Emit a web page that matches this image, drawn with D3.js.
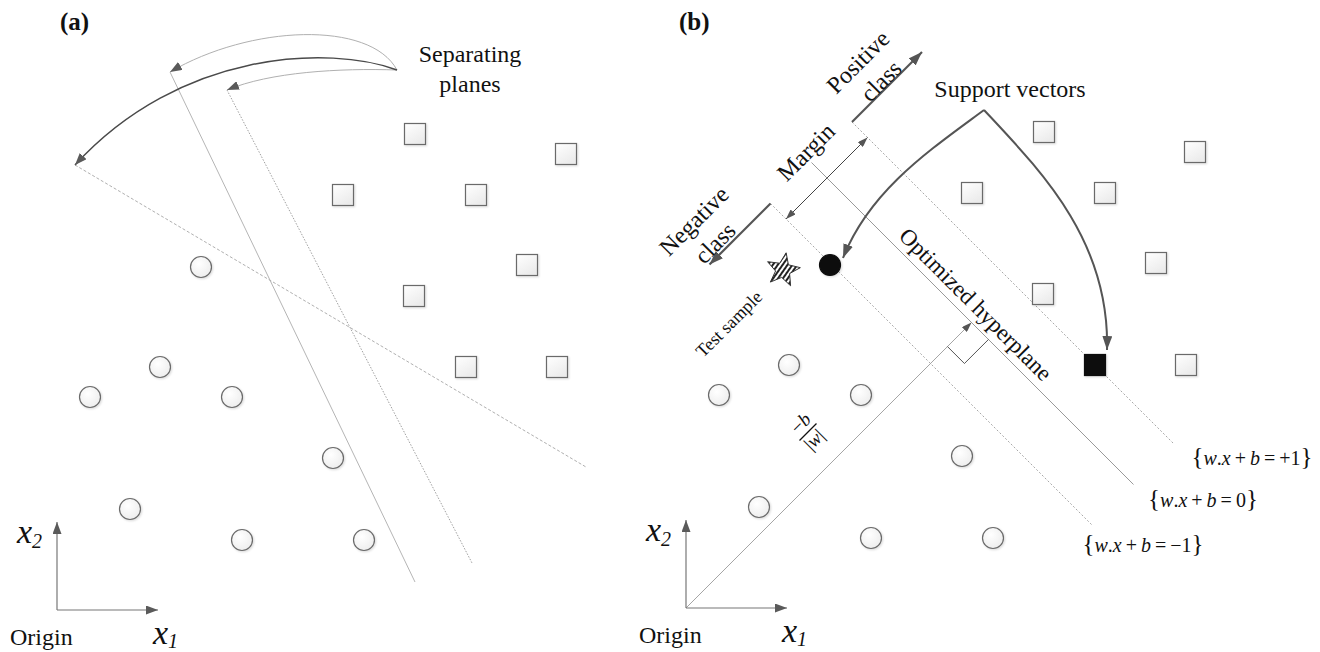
<!DOCTYPE html>
<html>
<head>
<meta charset="utf-8">
<script src="https://cdn.jsdelivr.net/npm/d3@7/dist/d3.min.js"></script>
<style>
  html, body { margin: 0; padding: 0; background: #fff; }
  svg { display: block; }
  svg text { font-family: "Liberation Serif", "Times New Roman", Times, serif; fill: #111; }
</style>
</head>
<body>
<svg id="fig" width="1320" height="652" font-family="Liberation Serif, Times New Roman, serif"></svg>
<script>
// ---- Training samples in feature space (x1, x2), shared by both panels ----
const positiveSamples = [[358,476],[509,456],[286,415],[419,415],[470,345],[357,314],[409,243],[500,243]];
const negativeSamples = [[144,343],[103,243],[33,213],[175,213],[276,152],[73,101],[185,70],[307,70]];
const positiveSupportIdx = [6];
const negativeSupportIdx = [0];
const testSample = [97, 338];

// ---- Panel (a): candidate separating planes (end points) ----
const candidatePlanes = [
  [[113,538],[358,28]],
  [[170,520],[415,47]],
  [[18,445],[529,143]]
];
const candidateDash = [null, "1.5,1.5", "3,2"];
const candidateColor = ["#b5b5b5", "#a0a0a0", "#b0b0b0"];

// ---- Panel (b): optimized hyperplane w.x + b = c, with w along (1,1) ----
// x1 + x2 on each boundary, and the drawn span of x1 − x2
const boundaryRhs  = ["+1", "0", "\u22121"];
const boundarySums = [652, 571, 489];
const boundarySpan = [-320, 324];
const boundaryDash = ["2,2", null, "2,2"];

const SERIF = "Liberation Serif, Times New Roman, serif";
const svg = d3.select("#fig");
const defs = svg.append("defs");

// arrowheads
function marker(id, len, wid, color) {
  defs.append("marker")
    .attr("id", id)
    .attr("viewBox", `0 0 ${len} ${wid}`)
    .attr("refX", len).attr("refY", wid / 2)
    .attr("markerWidth", len).attr("markerHeight", wid)
    .attr("markerUnits", "userSpaceOnUse")
    .attr("orient", "auto-start-reverse")
    .append("path")
    .attr("d", `M0,0L${len},${wid / 2}L0,${wid}Z`)
    .attr("fill", color);
}
marker("tipL", 14, 10, "#555");
marker("tipM", 12, 9, "#5a5a5a");
marker("tipS", 10, 7, "#555");

// sample fills
const sq = defs.append("linearGradient").attr("id", "sqFill")
  .attr("x1", 0).attr("y1", 0).attr("x2", 0.6).attr("y2", 1);
sq.append("stop").attr("offset", "0%").attr("stop-color", "#ffffff");
sq.append("stop").attr("offset", "100%").attr("stop-color", "#ebebeb");
const ci = defs.append("radialGradient").attr("id", "ciFill")
  .attr("cx", "40%").attr("cy", "35%").attr("r", "70%");
ci.append("stop").attr("offset", "0%").attr("stop-color", "#ffffff");
ci.append("stop").attr("offset", "100%").attr("stop-color", "#ededed");
const soft = defs.append("filter").attr("id", "soft")
  .attr("x", "-30%").attr("y", "-30%").attr("width", "160%").attr("height", "160%");
soft.append("feDropShadow").attr("dx", 1).attr("dy", 1).attr("stdDeviation", 0.8)
  .attr("flood-color", "#000").attr("flood-opacity", 0.15);

// hatching for the test sample
const pat = defs.append("pattern").attr("id", "stripes")
  .attr("patternUnits", "userSpaceOnUse").attr("width", 4).attr("height", 4)
  .attr("patternTransform", "rotate(35)");
pat.append("rect").attr("width", 4).attr("height", 4).attr("fill", "#fff");
pat.append("rect").attr("width", 2).attr("height", 4).attr("fill", "#222");

// one coordinate frame per panel, origin at the x1/x2 arrows
function panelScales(ox, oy) {
  return {
    x: d3.scaleLinear().domain([0, 600]).range([ox, ox + 600]),
    y: d3.scaleLinear().domain([0, 600]).range([oy, oy - 600])
  };
}
const A = panelScales(57, 610);
const B = panelScales(686, 608);

const lineOf = s => d3.line().x(d => s.x(d[0])).y(d => s.y(d[1]));
function bezier(s, p0, c1, c2, p1) {
  const p = d3.path();
  p.moveTo(s.x(p0[0]), s.y(p0[1]));
  p.bezierCurveTo(s.x(c1[0]), s.y(c1[1]), s.x(c2[0]), s.y(c2[1]), s.x(p1[0]), s.y(p1[1]));
  return p.toString();
}
function txt(g) {
  return g.append("text").attr("font-family", SERIF).attr("fill", "#111");
}

function drawAxes(g, s) {
  g.append("path").attr("d", lineOf(s)([[0, 0], [101, 0]]))
    .attr("stroke", "#777").attr("stroke-width", 1.2).attr("fill", "none")
    .attr("marker-end", "url(#tipM)");
  g.append("path").attr("d", lineOf(s)([[0, 0], [0, 88]]))
    .attr("stroke", "#777").attr("stroke-width", 1.2).attr("fill", "none")
    .attr("marker-end", "url(#tipM)");
  txt(g).attr("x", s.x(-47)).attr("y", s.y(-35))
    .attr("font-size", 24).text("Origin");
  const x1 = txt(g).attr("x", s.x(96)).attr("y", s.y(-34)).attr("font-style", "italic");
  x1.append("tspan").attr("font-size", 34).text("x");
  x1.append("tspan").attr("font-size", 20).attr("dy", 4).text("1");
  const x2 = txt(g).attr("x", s.x(-40)).attr("y", s.y(67)).attr("font-style", "italic");
  x2.append("tspan").attr("font-size", 34).text("x");
  x2.append("tspan").attr("font-size", 20).attr("dy", 5).text("2");
}

function drawSamples(g, s, showSupport) {
  const side = 21, r = 10.5;
  const isPosSV = i => showSupport && positiveSupportIdx.includes(i);
  const isNegSV = i => showSupport && negativeSupportIdx.includes(i);
  g.selectAll("rect.pos").data(positiveSamples).join("rect").attr("class", "pos")
    .attr("x", d => s.x(d[0]) - side / 2).attr("y", d => s.y(d[1]) - side / 2)
    .attr("width", side).attr("height", side)
    .attr("fill", (d, i) => isPosSV(i) ? "#111" : "url(#sqFill)")
    .attr("stroke", (d, i) => isPosSV(i) ? "#111" : "#6b6b6b")
    .attr("stroke-width", 1.2).attr("filter", "url(#soft)");
  g.selectAll("circle.neg").data(negativeSamples).join("circle").attr("class", "neg")
    .attr("cx", d => s.x(d[0])).attr("cy", d => s.y(d[1])).attr("r", r)
    .attr("fill", (d, i) => isNegSV(i) ? "#111" : "url(#ciFill)")
    .attr("stroke", (d, i) => isNegSV(i) ? "#111" : "#6b6b6b")
    .attr("stroke-width", 1.2).attr("filter", "url(#soft)");
}

function rotText(g, s, pos, str, angle, size) {
  return txt(g)
    .attr("transform", `translate(${s.x(pos[0])},${s.y(pos[1])}) rotate(${angle})`)
    .attr("text-anchor", "middle").attr("dominant-baseline", "central")
    .attr("font-size", size).text(str);
}

// ================= Panel (a) =================
const gA = svg.append("g");
txt(gA).attr("x", A.x(3)).attr("y", A.y(580))
  .attr("font-size", 25).attr("font-weight", "bold").text("(a)");

candidatePlanes.forEach((pl, i) => {
  gA.append("path").attr("d", lineOf(A)(pl))
    .attr("stroke", candidateColor[i]).attr("stroke-width", 1)
    .attr("stroke-dasharray", candidateDash[i]).attr("fill", "none");
});

// pointers from the caption to each plane
const capA = [340, 540];
gA.append("path").attr("d", bezier(A, capA, [313, 590], [193, 585], candidatePlanes[0][0]))
  .attr("stroke", "#b0b0b0").attr("stroke-width", 1).attr("fill", "none").attr("marker-end", "url(#tipM)");
gA.append("path").attr("d", bezier(A, capA, [283, 542], [213, 538], candidatePlanes[1][0]))
  .attr("stroke", "#b0b0b0").attr("stroke-width", 1).attr("fill", "none").attr("marker-end", "url(#tipM)");
gA.append("path").attr("d", bezier(A, capA, [273, 565], [123, 560], candidatePlanes[2][0]))
  .attr("stroke", "#4a4a4a").attr("stroke-width", 1.5).attr("fill", "none").attr("marker-end", "url(#tipM)");

txt(gA).attr("x", A.x(413)).attr("y", A.y(548)).attr("text-anchor", "middle")
  .attr("font-size", 24).text("Separating");
txt(gA).attr("x", A.x(413)).attr("y", A.y(518)).attr("text-anchor", "middle")
  .attr("font-size", 24).text("planes");

drawSamples(gA, A, false);
drawAxes(gA, A);

// ================= Panel (b) =================
const gB = svg.append("g");
txt(gB).attr("x", B.x(-7)).attr("y", B.y(578))
  .attr("font-size", 25).attr("font-weight", "bold").text("(b)");

const onBoundary = (sum, d) => [(sum + d) / 2, (sum - d) / 2];

boundarySums.forEach((sum, i) => {
  gB.append("path").attr("d", lineOf(B)(boundarySpan.map(d => onBoundary(sum, d))))
    .attr("stroke", i === 1 ? "#9a9a9a" : "#a8a8a8").attr("stroke-width", 1)
    .attr("stroke-dasharray", boundaryDash[i]).attr("fill", "none");
});

// class direction arrows from the margin ends
const posStart = onBoundary(boundarySums[0], boundarySpan[0]);
const negStart = onBoundary(boundarySums[2], boundarySpan[0]);
gB.append("path").attr("d", lineOf(B)([posStart, [posStart[0] + 70, posStart[1] + 70]]))
  .attr("stroke", "#555").attr("stroke-width", 2.2).attr("fill", "none").attr("marker-end", "url(#tipL)");
gB.append("path").attr("d", lineOf(B)([negStart, [negStart[0] - 61, negStart[1] - 61]]))
  .attr("stroke", "#555").attr("stroke-width", 2.2).attr("fill", "none").attr("marker-end", "url(#tipL)");

// margin width
gB.append("path").attr("d", lineOf(B)([onBoundary(boundarySums[2], -289), onBoundary(boundarySums[0], -289)]))
  .attr("stroke", "#444").attr("stroke-width", 1).attr("fill", "none")
  .attr("marker-start", "url(#tipS)").attr("marker-end", "url(#tipS)");

// distance from origin to the hyperplane
const foot = onBoundary(boundarySums[1], 0);
gB.append("path").attr("d", lineOf(B)([[0, 0], foot]))
  .attr("stroke", "#a5a5a5").attr("stroke-width", 1).attr("fill", "none").attr("marker-end", "url(#tipS)");
const n = [Math.SQRT1_2, Math.SQRT1_2], t = [Math.SQRT1_2, -Math.SQRT1_2];
const ra = [foot[0] - 34 * n[0], foot[1] - 34 * n[1]];
const rc = [ra[0] + 24 * t[0], ra[1] + 24 * t[1]];
const rb = [foot[0] + 24 * t[0], foot[1] + 24 * t[1]];
gB.append("path").attr("d", lineOf(B)([ra, rc, rb]))
  .attr("stroke", "#555").attr("stroke-width", 1).attr("fill", "none");

// support vector pointers
const capB = [298, 498];
gB.append("path").attr("d", bezier(B, capB, [244, 458], [184, 418], [157, 350]))
  .attr("stroke", "#555").attr("stroke-width", 2).attr("fill", "none").attr("marker-end", "url(#tipL)");
gB.append("path").attr("d", bezier(B, capB, [354, 438], [424, 368], [421, 258]))
  .attr("stroke", "#555").attr("stroke-width", 2).attr("fill", "none").attr("marker-end", "url(#tipL)");

drawSamples(gB, B, true);

// test sample
const starPts = d3.range(10).map(i => {
  const r = i % 2 ? 7.5 : 17.5;
  const a = -Math.PI / 2 + i * Math.PI / 5 + 0.18;
  return [B.x(testSample[0]) + r * Math.cos(a), B.y(testSample[1]) + r * Math.sin(a)];
});
gB.append("path").attr("d", "M" + starPts.join("L") + "Z")
  .attr("fill", "url(#stripes)").attr("stroke", "#333").attr("stroke-width", 1);

drawAxes(gB, B);

// labels
txt(gB).attr("x", B.x(324)).attr("y", B.y(511)).attr("text-anchor", "middle")
  .attr("font-size", 24).text("Support vectors");
rotText(gB, B, [172, 546], "Positive", -45, 24);
rotText(gB, B, [195, 527], "class", -45, 24);
rotText(gB, B, [8, 387], "Negative", -45, 24);
rotText(gB, B, [29, 365], "class", -45, 24);
rotText(gB, B, [120, 456], "Margin", -45, 24);
rotText(gB, B, [43, 284], "Test sample", -45, 18);
rotText(gB, B, [289.5, 303.5], "Optimized hyperplane", 45, 23);

// −b / |w|
const frac = gB.append("g")
  .attr("transform", `translate(${B.x(122)},${B.y(176)}) rotate(-45)`);
const num = txt(frac).attr("x", 1).attr("y", -5).attr("text-anchor", "middle").attr("font-size", 19);
num.append("tspan").text("\u2212");
num.append("tspan").attr("font-style", "italic").text("b");
frac.append("line").attr("x1", -12).attr("x2", 12).attr("y1", 0).attr("y2", 0)
  .attr("stroke", "#111").attr("stroke-width", 1.2);
const den = txt(frac).attr("x", -1).attr("y", 16).attr("text-anchor", "middle").attr("font-size", 19);
den.append("tspan").text("|");
den.append("tspan").attr("font-style", "italic").text("w");
den.append("tspan").text("|");

// boundary equations
const eqPos = [[566, 143], [517, 101], [457, 56]];
boundaryRhs.forEach((rhs, i) => {
  const tx = txt(gB).attr("x", B.x(eqPos[i][0])).attr("y", B.y(eqPos[i][1]))
    .attr("text-anchor", "middle").attr("font-size", 20);
  tx.append("tspan").attr("font-size", 25).text("{");
  tx.append("tspan").attr("font-style", "italic").text("w");
  tx.append("tspan").text(".");
  tx.append("tspan").attr("font-style", "italic").text("x");
  tx.append("tspan").text("\u2009+\u2009");
  tx.append("tspan").attr("font-style", "italic").text("b");
  tx.append("tspan").text("\u2009=\u2009" + rhs);
  tx.append("tspan").attr("font-size", 25).text("}");
});
</script>
</body>
</html>
